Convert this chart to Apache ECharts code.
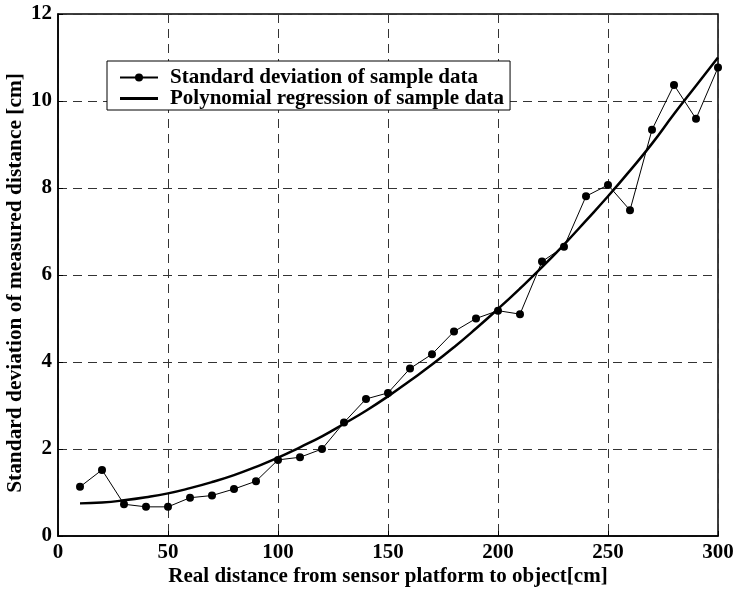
<!DOCTYPE html>
<html>
<head>
<meta charset="utf-8">
<script src="https://cdn.jsdelivr.net/npm/echarts@6/dist/echarts.min.js"></script>
<style>html,body{margin:0;padding:0;background:#fff}#c{width:734px;height:590px}</style>
</head>
<body>
<div id="c"></div>
<script>
const distances = [10,20,30,40,50,60,70,80,90,100,110,120,130,140,150,160,170,180,190,200,210,220,230,240,250,260,270,280,290,300];
const stdDev = [1.13,1.52,0.73,0.67,0.67,0.88,0.93,1.08,1.26,1.75,1.81,2.00,2.61,3.15,3.29,3.85,4.18,4.70,5.00,5.18,5.10,6.31,6.65,7.81,8.07,7.49,9.34,10.37,9.59,10.77];
const polyFit = [0.75,0.77,0.82,0.89,0.98,1.10,1.24,1.40,1.59,1.80,2.04,2.29,2.58,2.88,3.21,3.57,3.94,4.34,4.77,5.22,5.69,6.18,6.70,7.25,7.81,8.40,9.02,9.70,10.35,11.00];
const seriesNames = ['Standard deviation of sample data','Polynomial regression of sample data'];
const xTitle = 'Real distance from sensor platform to object[cm]';
const yTitle = 'Standard deviation of measured distance [cm]';

const font = '"Liberation Serif","Times New Roman",serif';
const chart = echarts.init(document.getElementById('c'), null, {renderer:'canvas'});
const gridLine = {show:true, lineStyle:{color:'#333', type:[9,6], width:1}};
chart.setOption({
  animation:false,
  backgroundColor:'#fff',
  grid:{left:58, top:14, right:16, bottom:54, show:true, borderColor:'#000', borderWidth:1.5,
        containLabel:false, outerBoundsMode:'none'},
  legend:{
    left:107, top:61, orient:'vertical',
    backgroundColor:'#fff', borderColor:'#000', borderWidth:1,
    padding:[6,6,1,12], itemGap:0, itemWidth:38, itemHeight:10,
    textStyle:{fontFamily:font, fontWeight:'bold', fontSize:21, color:'#000', lineHeight:19, padding:[0,0,0,7]},
    data:[
      {name:seriesNames[0]},
      {name:seriesNames[1], icon:'path://M0,0 L38,0 L38,3 L0,3 Z'}
    ]
  },
  xAxis:{
    type:'value', min:0, max:300, interval:50,
    name:xTitle, nameLocation:'middle', nameGap:30, nameMoveOverlap:false,
    nameTextStyle:{fontFamily:font, fontWeight:'bold', fontSize:21, color:'#000'},
    axisLine:{show:true, lineStyle:{color:'#000', width:1.5}},
    axisTick:{show:true, inside:true, length:5, lineStyle:{color:'#000'}},
    axisLabel:{fontFamily:font, fontWeight:'bold', fontSize:21, color:'#000', margin:6},
    splitLine:gridLine
  },
  yAxis:{
    type:'value', min:0, max:12, interval:2,
    name:yTitle, nameLocation:'middle', nameGap:32, nameMoveOverlap:false,
    nameTextStyle:{fontFamily:font, fontWeight:'bold', fontSize:21.4, color:'#000', padding:[0,16,0,0]},
    axisLine:{show:true, lineStyle:{color:'#000', width:1.5}},
    axisTick:{show:true, inside:true, length:5, lineStyle:{color:'#000'}},
    axisLabel:{fontFamily:font, fontWeight:'bold', fontSize:21, color:'#000', margin:6},
    splitLine:gridLine
  },
  series:[
    {
      name:seriesNames[0], type:'line',
      data:distances.map((d,i)=>[d, stdDev[i]]),
      symbol:'circle', symbolSize:8,
      itemStyle:{color:'#000'},
      lineStyle:{color:'#000', width:1}
    },
    {
      name:seriesNames[1], type:'line',
      data:distances.map((d,i)=>[d, polyFit[i]]),
      symbol:'none', smooth:true,
      itemStyle:{color:'#000'},
      lineStyle:{color:'#000', width:2.5}
    }
  ]
});
</script>
</body>
</html>
